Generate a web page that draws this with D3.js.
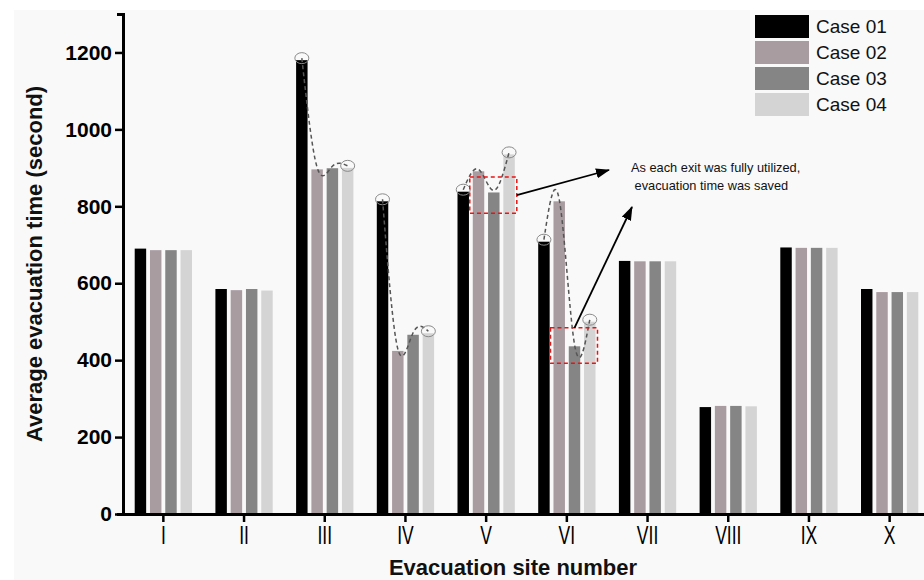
<!DOCTYPE html>
<html>
<head>
<meta charset="utf-8">
<script src="https://cdn.jsdelivr.net/npm/d3@7"></script>
<style>
  body { margin: 0; background: #ffffff; }
  svg { display: block; font-family: "Liberation Sans", Arial, sans-serif; }
</style>
</head>
<body>
<div id="chart"></div>
<script>
// Data
var sites = ["I", "II", "III", "IV", "V", "VI", "VII", "VIII", "IX", "X"];
var cases = ["Case 01", "Case 02", "Case 03", "Case 04"];
var case01 = [690, 585, 1180, 813, 838, 708, 658, 278, 693, 585];
var case02 = [686, 582, 896, 424, 891, 813, 657, 281, 692, 577];
var case03 = [686, 585, 899, 466, 836, 436, 657, 281, 692, 577];
var case04 = [686, 581, 900, 470, 935, 500, 657, 280, 692, 577];
var yTicks = [0, 200, 400, 600, 800, 1000, 1200];

// sites with the dashed trend curve and ringed bar tops
var curveSites = ["III", "IV", "V", "VI"];
// highlighted ranges (site, value low, value high)
var boxSites = ["V", "VI"];
var boxLow = [782, 392];
var boxHigh = [876, 484];
var noteLines = ["As each exit was fully utilized,", " evacuation time was saved"];

var colors = ["#000000", "#a99ca1", "#858585", "#d4d4d4"];

function init() {
    var width = 924;
    var height = 580;
    var margin = { left: 123, top: 14, bottom: 66 };
    var plotBottom = height - margin.bottom;

    var values = [case01, case02, case03, case04];
    var rows = sites.map(function (s, i) {
        return { site: s, vals: values.map(function (v) { return v[i]; }) };
    });

    var svg = d3.select("#chart")
        .append("svg")
        .attr("width", width)
        .attr("height", height);

    // light panel background
    svg.append("rect")
        .attr("x", 14).attr("y", 10)
        .attr("width", width - 14).attr("height", height - 10)
        .attr("fill", "#f9f9f9");

    // Scales
    var x = d3.scaleBand()
        .domain(sites)
        .range([margin.left, margin.left + 807])
        .paddingInner(0.29)
        .paddingOuter(0.145);

    var xSub = d3.scaleBand()
        .domain(cases)
        .range([0, x.bandwidth()])
        .paddingInner(0.25);

    var y = d3.scaleLinear()
        .domain([0, 1300])
        .range([plotBottom, margin.top]);

    // Bars
    var groups = svg.append("g").selectAll("g")
        .data(rows)
        .enter()
        .append("g")
        .attr("transform", function (d) { return "translate(" + x(d.site) + ",0)"; });

    groups.selectAll("rect")
        .data(function (d) { return d.vals.map(function (v, j) { return { c: cases[j], v: v, j: j }; }); })
        .enter()
        .append("rect")
        .attr("x", function (d) { return xSub(d.c); })
        .attr("y", function (d) { return y(d.v); })
        .attr("width", xSub.bandwidth())
        .attr("height", function (d) { return plotBottom - y(d.v); })
        .attr("fill", function (d) { return colors[d.j]; });

    // Dashed curves and rings
    var line = d3.line()
        .x(function (d) { return d[0]; })
        .y(function (d) { return d[1]; })
        .curve(d3.curveNatural);

    var ann = svg.append("g");
    rows.filter(function (r) { return curveSites.indexOf(r.site) >= 0; }).forEach(function (r) {
        var pts = r.vals.map(function (v, j) {
            return [x(r.site) + xSub(cases[j]) + xSub.bandwidth() / 2, y(v) - 2];
        });
        ann.append("path")
            .attr("d", line(pts))
            .attr("fill", "none")
            .attr("stroke", "#555")
            .attr("stroke-width", 1.5)
            .attr("stroke-dasharray", "4,3");
        [pts[0], pts[3]].forEach(function (p) {
            ann.append("ellipse")
                .attr("cx", p[0]).attr("cy", p[1])
                .attr("rx", 7).attr("ry", 5.5)
                .attr("fill", "none")
                .attr("stroke", "#8a8a8a")
                .attr("stroke-width", 1);
        });
    });

    // Red dashed boxes
    var boxes = boxSites.map(function (s, i) {
        var x0 = x(s) + xSub(cases[1]) - 3;
        var x1 = x(s) + xSub(cases[3]) + xSub.bandwidth() + 2;
        return { x0: x0, x1: x1, y0: y(boxHigh[i]), y1: y(boxLow[i]) };
    });
    boxes.forEach(function (b) {
        ann.append("rect")
            .attr("x", b.x0).attr("y", b.y0)
            .attr("width", b.x1 - b.x0).attr("height", b.y1 - b.y0)
            .attr("fill", "none")
            .attr("stroke", "#ee1111")
            .attr("stroke-width", 1.5)
            .attr("stroke-dasharray", "4,3");
    });

    // Note and arrows
    var noteX = 631, noteY = 172;
    svg.append("defs").append("marker")
        .attr("id", "head")
        .attr("markerUnits", "userSpaceOnUse")
        .attr("markerWidth", 14).attr("markerHeight", 10)
        .attr("refX", 13).attr("refY", 5)
        .attr("orient", "auto")
        .append("path")
        .attr("d", "M0,0 L14,5 L0,10 Z")
        .attr("fill", "#000");

    var b0 = boxes[0], b1 = boxes[1];
    ann.append("line")
        .attr("x1", b0.x1).attr("y1", (b0.y0 + b0.y1) / 2)
        .attr("x2", noteX - 22).attr("y2", noteY - 2)
        .attr("stroke", "#000").attr("stroke-width", 1.8)
        .attr("marker-end", "url(#head)");
    ann.append("line")
        .attr("x1", x("VI") + xSub(cases[2]) + xSub.bandwidth() / 2).attr("y1", b1.y0)
        .attr("x2", noteX + 1).attr("y2", noteY + 35)
        .attr("stroke", "#000").attr("stroke-width", 1.8)
        .attr("marker-end", "url(#head)");

    svg.append("g").selectAll("text")
        .data(noteLines)
        .enter()
        .append("text")
        .attr("x", noteX)
        .attr("y", function (d, i) { return noteY + i * 18; })
        .attr("font-size", 12.8)
        .attr("fill", "#111")
        .style("white-space", "pre")
        .text(function (d) { return d; });

    // Axes
    var yAxis = d3.axisLeft(y)
        .tickValues(yTicks)
        .tickFormat(d3.format("d"))
        .tickSize(8)
        .tickSizeOuter(6)
        .tickPadding(3);
    var gy = svg.append("g")
        .attr("transform", "translate(" + margin.left + ",0)")
        .call(yAxis);
    gy.select(".domain").attr("stroke-width", 3);
    gy.selectAll(".tick line").attr("stroke-width", 2.5);
    gy.selectAll(".tick text")
        .attr("font-size", 21)
        .attr("font-weight", "bold")
        .attr("font-family", "Liberation Sans, Arial, sans-serif")
        .attr("fill", "#000");

    var xAxis = d3.axisBottom(x)
        .tickSize(8)
        .tickSizeOuter(0)
        .tickPadding(4);
    var gx = svg.append("g")
        .attr("transform", "translate(0," + plotBottom + ")")
        .call(xAxis);
    gx.select(".domain").attr("stroke-width", 3);
    gx.selectAll(".tick line").attr("stroke-width", 2.5);
    gx.selectAll(".tick text")
        .attr("font-size", 25)
        .attr("font-family", "Liberation Sans, Arial, sans-serif")
        .attr("transform", "scale(0.7,1)")
        .attr("fill", "#000");

    // Axis titles
    svg.append("text")
        .attr("transform", "translate(42," + (y(650)) + ") rotate(-90)")
        .attr("text-anchor", "middle")
        .attr("font-size", 22)
        .attr("font-weight", "bold")
        .attr("fill", "#111")
        .text("Average evacuation time (second)");

    svg.append("text")
        .attr("x", 513)
        .attr("y", 575)
        .attr("text-anchor", "middle")
        .attr("font-size", 22)
        .attr("font-weight", "bold")
        .attr("fill", "#111")
        .text("Evacuation site number");

    // Legend
    var legend = svg.append("g").attr("transform", "translate(755,15)");
    var items = legend.selectAll("g")
        .data(cases)
        .enter()
        .append("g")
        .attr("transform", function (d, i) { return "translate(0," + i * 26 + ")"; });
    items.append("rect")
        .attr("width", 54).attr("height", 23)
        .attr("fill", function (d, i) { return colors[i]; });
    items.append("text")
        .attr("x", 61).attr("y", 18)
        .attr("font-size", 19)
        .attr("fill", "#111")
        .text(function (d) { return d; });
}

window.onload = init;
</script>
</body>
</html>
